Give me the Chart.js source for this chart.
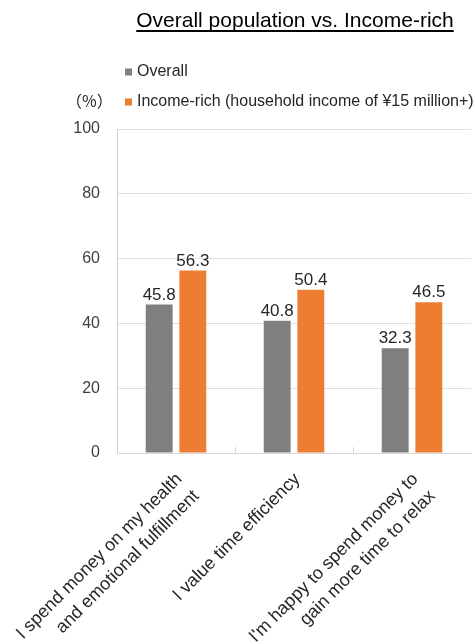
<!DOCTYPE html>
<html>
<head>
<meta charset="utf-8">
<script src="https://cdn.jsdelivr.net/npm/chart.js@4/dist/chart.umd.min.js"></script>
<style>
  html, body { margin: 0; padding: 0; background: #fff; }
  #chart { display: block; }
</style>
</head>
<body>
<canvas id="chart" width="475" height="644"></canvas>
<script>
// data
const categories = [
  ['I spend money on my health', 'and emotional fulfillment'],
  ['I value time efficiency'],
  ["I'm happy to spend money to", 'gain more time to relax'],
]
const overall = [45.8, 40.8, 32.3]
const incomeRich = [56.3, 50.4, 46.5]
const seriesNames = ['Overall', 'Income-rich (household income of ¥15 million+)']
const yMax = 100
const yStep = 20

const FONT = "'Liberation Sans', Arial, sans-serif"
const GRAY = '#7f7f7f'
const ORANGE = '#ed7d31'

// title, legend, value labels and rotated category labels
const decorations = {
  id: 'decorations',
  afterDatasetsDraw(chart) {
    const ctx = chart.ctx
    ctx.save()
    ctx.fillStyle = '#262626'
    ctx.font = '17px ' + FONT
    ctx.textAlign = 'center'
    ctx.textBaseline = 'alphabetic'
    chart.data.datasets.forEach((ds, di) => {
      chart.getDatasetMeta(di).data.forEach((bar, i) => {
        ctx.fillText(ds.data[i].toFixed(1), bar.x, bar.y - 5)
      })
    })
    ctx.restore()
  },
  afterDraw(chart) {
    const ctx = chart.ctx
    const x = chart.scales.x
    const area = chart.chartArea
    ctx.save()

    // title
    ctx.fillStyle = '#000'
    ctx.font = '21px ' + FONT
    ctx.textAlign = 'center'
    ctx.textBaseline = 'alphabetic'
    const title = 'Overall population vs. Income-rich'
    ctx.fillText(title, 295, 27)
    const tw = ctx.measureText(title).width
    ctx.fillRect(295 - tw / 2, 30, tw, 2)

    // legend
    ctx.font = '16px ' + FONT
    ctx.textAlign = 'left'
    ctx.textBaseline = 'middle'
    chart.data.datasets.forEach((ds, i) => {
      const y = 72 + i * 30
      ctx.fillStyle = ds.backgroundColor
      ctx.fillRect(125, y - 3.5, 7, 7)
      ctx.fillStyle = '#262626'
      ctx.fillText(seriesNames[i], 137, y)
    })
    ctx.font = "16px 'Noto Sans CJK JP', " + FONT
    ctx.fillText('（%）', 66, 101)

    // small ticks between categories
    ctx.strokeStyle = '#d9d9d9'
    ctx.lineWidth = 1
    for (let i = 1; i < categories.length; i++) {
      const px = Math.round((x.getPixelForValue(i - 1) + x.getPixelForValue(i)) / 2) + 0.5
      ctx.beginPath()
      ctx.moveTo(px, area.bottom)
      ctx.lineTo(px, area.bottom - 6)
      ctx.stroke()
    }

    // category labels, rotated 45 degrees, right aligned
    ctx.fillStyle = '#262626'
    ctx.font = '18px ' + FONT
    ctx.textAlign = 'right'
    ctx.textBaseline = 'top'
    categories.forEach((lines, i) => {
      const cx = x.getPixelForValue(i)
      ctx.save()
      ctx.translate(cx - 3, area.bottom + 17)
      ctx.rotate(-Math.PI / 4)
      lines.forEach((line, li) => ctx.fillText(line, 0, li * 24))
      ctx.restore()
    })
    ctx.restore()
  },
}

new Chart(document.getElementById('chart'), {
  type: 'bar',
  data: {
    labels: categories,
    datasets: [
      { label: seriesNames[0], data: overall, backgroundColor: GRAY },
      { label: seriesNames[1], data: incomeRich, backgroundColor: ORANGE },
    ],
  },
  options: {
    responsive: false,
    animation: false,
    devicePixelRatio: 1,
    layout: { padding: { left: 0, top: 129, right: 4, bottom: 0 } },
    datasets: {
      bar: { categoryPercentage: 0.57, barPercentage: 0.8 },
    },
    plugins: {
      legend: { display: false },
      title: { display: false },
      tooltip: { enabled: false },
    },
    scales: {
      x: {
        grid: { display: false },
        border: { color: '#d9d9d9' },
        ticks: { display: false },
        afterFit: (scale) => { scale.height = 644 - 453 },
      },
      y: {
        min: 0,
        max: yMax,
        ticks: {
          stepSize: yStep,
          color: '#404040',
          font: { family: FONT, size: 16 },
          padding: 17,
        },
        grid: { color: '#e0e0e0', drawTicks: false },
        border: { color: '#d0d0d0' },
        afterFit: (scale) => { scale.width = 117 },
      },
    },
  },
  plugins: [decorations],
})
</script>
</body>
</html>
